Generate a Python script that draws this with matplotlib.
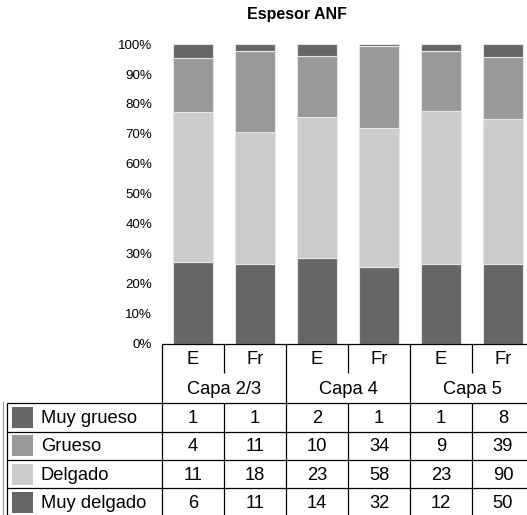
import matplotlib
matplotlib.use("Agg")
import matplotlib.pyplot as plt
from matplotlib.patches import Rectangle
import numpy as np

plt.rcParams['font.family'] = ['Liberation Sans', 'DejaVu Sans']

title = "Espesor ANF"
sub_labels = ["E", "Fr", "E", "Fr", "E", "Fr"]
group_labels = ["Capa 2/3", "Capa 4", "Capa 5"]
series_names = ["Muy grueso", "Grueso", "Delgado", "Muy delgado"]
muy_grueso = [1, 1, 2, 1, 1, 8]
grueso = [4, 11, 10, 34, 9, 39]
delgado = [11, 18, 23, 58, 23, 90]
muy_delgado = [6, 11, 14, 32, 12, 50]
colors = {"Muy grueso": "#666666", "Grueso": "#999999",
          "Delgado": "#cccccc", "Muy delgado": "#666666"}

W, H = 527, 515
fig = plt.figure(figsize=(W / 100, H / 100), dpi=100)

left_px, right_px = 162, 534
top_px, zero_px = 44, 344
ax = fig.add_axes([left_px / W, (H - zero_px) / H, (right_px - left_px) / W, (zero_px - top_px) / H])

data = {"Muy grueso": np.array(muy_grueso, float), "Grueso": np.array(grueso, float),
        "Delgado": np.array(delgado, float), "Muy delgado": np.array(muy_delgado, float)}
total = sum(data.values())
x = np.arange(len(sub_labels))
bottom = np.zeros(len(x))
for name in ["Muy delgado", "Delgado", "Grueso", "Muy grueso"]:
    frac = data[name] / total
    ax.bar(x, frac, width=0.66, bottom=bottom, color=colors[name],
           edgecolor="#e6e6e6", linewidth=0.8)
    bottom += frac

ax.set_xlim(-0.5, 5.5)
ax.set_ylim(0, 1)
ax.set_yticks(np.arange(0, 1.01, 0.1))
ax.set_yticklabels([f"{int(round(v*100))}%" for v in np.arange(0, 1.01, 0.1)])
ax.tick_params(axis='y', length=0, pad=7, labelsize=9.6, colors="#000000")
ax.set_xticks([])
for s in ax.spines.values():
    s.set_visible(False)

fig.text(297 / W, 1 - 14 / H, title, ha="center", va="center",
         fontsize=11.5, fontweight="bold")

# table axes sharing x; y in pixel rows (top-down)
bounds = [344, 374, 403.5, 431.8, 460.1, 488.4, 516.7]
tab_top, tab_bot = bounds[0], bounds[-1]
tx = fig.add_axes([left_px / W, (H - tab_bot) / H, (right_px - left_px) / W, (tab_bot - tab_top) / H],
                  sharex=ax)
tx.set_ylim(tab_bot, tab_top)
tx.axis("off")

def px2x(px):
    return (px - left_px) / 62.0 - 0.5

lx = px2x(6.5)
lc = "#000000"
lw = 0.9
kw = dict(color=lc, lw=lw, clip_on=False, solid_capstyle="butt")
xr = 5.6
# horizontal lines
tx.plot([-0.5, xr], [bounds[0], bounds[0]], **kw)
for r in bounds[2:6]:
    tx.plot([lx, xr], [r, r], **kw)
# vertical lines
tx.plot([-0.5, -0.5], [bounds[0], 520], **kw)
tx.plot([lx, lx], [bounds[2], 520], **kw)
tx.plot([px2x(2.5), px2x(2.5)], [bounds[2] - 1, 520], color="#9a9a9a", lw=0.8, clip_on=False)
for v in [0.5, 2.5, 4.5]:
    tx.plot([v, v], [bounds[0], bounds[1] - 1], **kw)
    tx.plot([v, v], [bounds[2], 520], **kw)
for v in [1.5, 3.5]:
    tx.plot([v, v], [bounds[0], 520], **kw)

fs = 13.2
for i, lab in enumerate(sub_labels):
    tx.text(i, (bounds[0] + bounds[1]) / 2 + 1, lab, ha="center", va="center", fontsize=fs)
for g, lab in enumerate(group_labels):
    tx.text(2 * g + 0.5, (bounds[1] + bounds[2]) / 2 + 1, lab, ha="center", va="center", fontsize=fs)

sw_x0, sw_x1 = px2x(12), px2x(33.5)
for r, name in enumerate(series_names):
    y0, y1 = bounds[2 + r], bounds[3 + r]
    yc = (y0 + y1) / 2
    tx.add_patch(Rectangle((sw_x0, y0 + 3.5), sw_x1 - sw_x0, 21,
                           facecolor=colors[name], edgecolor="none", clip_on=False))
    tx.text(px2x(41), yc + 1, name, ha="left", va="center", fontsize=fs, clip_on=False)
    for i, v in enumerate(data[name]):
        tx.text(i, yc + 1, f"{int(v)}", ha="center", va="center", fontsize=fs)

fig.savefig("out.png", dpi=100)
